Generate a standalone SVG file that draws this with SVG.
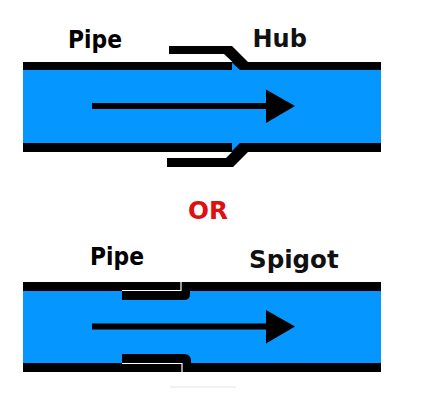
<svg xmlns="http://www.w3.org/2000/svg" width="421" height="404" viewBox="0 0 421 404">
<style>
.blue{fill:#0596ff}
.k{fill:#000}
.wl{fill:none;stroke:#fff;stroke-width:1.2}
.t{font-family:"DejaVu Sans",sans-serif;font-weight:700;fill:#111}
.p{font-family:"DejaVu Sans",sans-serif;font-weight:700;fill:#000}
</style>
<defs>
<path id="arrow" d="M92 -3H266V-16.500L295 0L266 17V3H92Z"/>
</defs>
<rect width="421" height="404" fill="#fff"/>
<g id="hub-pipe">
<rect class="blue" x="23" y="70" width="358" height="73"/>
<rect class="k" x="23" y="62" width="358" height="8"/>
<rect class="k" x="23" y="143" width="358" height="9"/>
<path class="blue" d="M232 62.500L241 71H232Z"/>
<path class="blue" d="M232 151L241 142H232Z"/>
<path class="k" d="M169 46H232L248 62V70H241L224 54H169Z"/>
<path class="k" d="M167 158H226L232 152L241 143H248V152L233 167H167Z"/>
</g>
<g id="spigot-pipe">
<rect class="blue" x="23" y="291" width="358" height="72"/>
<rect class="k" x="23" y="282" width="358" height="9"/>
<rect class="k" x="23" y="363" width="358" height="9"/>
<path class="k" d="M122 291H190V294Q190 300 184 300H122Z"/>
<path class="k" d="M122 354H184Q191 354 191 361V364H122Z"/>
<path class="wl" d="M122 290.500H181V282"/>
<path class="wl" d="M122 363.500H182V372"/>
</g>
<g id="connectors">
<use href="#arrow" y="106"/>
<use href="#arrow" y="326.500"/>
</g>
<g id="labels">
<text class="p" x="68" y="48" font-size="25" textLength="54" lengthAdjust="spacingAndGlyphs">Pipe</text>
<text class="t" x="252.500" y="47" font-size="24">Hub</text>
<text x="188" y="219" font-size="24" font-family="DejaVu Sans,sans-serif" font-weight="700" fill="#e01010" textLength="40" lengthAdjust="spacingAndGlyphs">OR</text>
<text class="p" x="90" y="265" font-size="25" textLength="54" lengthAdjust="spacingAndGlyphs">Pipe</text>
<text class="t" x="249" y="268" font-size="24.500">Spigot</text>
</g>
<rect x="170" y="386.500" width="66" height="1" fill="#e4e4e4"/>
</svg>
